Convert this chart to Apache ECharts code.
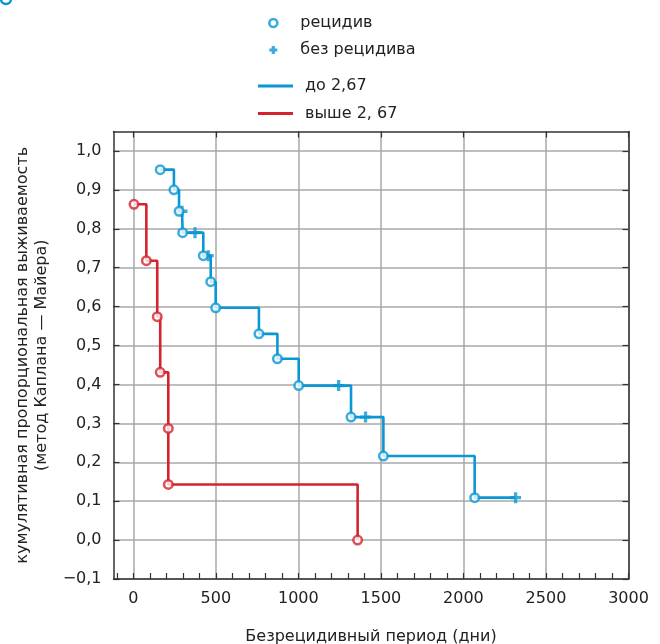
<!DOCTYPE html>
<html>
<head>
<meta charset="utf-8">
<title>Kaplan-Meier</title>
<script src="https://cdn.jsdelivr.net/npm/echarts@6/dist/echarts.min.js"></script>
<style>
  html, body { margin: 0; padding: 0; background: #fff; }
  #chart { width: 660px; height: 644px; }
</style>
</head>
<body>
<div id="chart"></div>
<script>
/* ---------- данные ---------- */
// до 2,67 : время (дни), выживаемость, 1 = без рецидива (цензурировано)
var blueTimes    = [163, 246, 277, 295, 299, 374, 424, 454, 469, 499, 761, 873, 1002, 1244, 1319, 1407, 1515, 2068, 2316];
var blueSurv     = [0.952, 0.900, 0.845, 0.845, 0.790, 0.790, 0.731, 0.731, 0.664, 0.597, 0.530, 0.466, 0.397, 0.397, 0.316, 0.316, 0.216, 0.109, 0.109];
var blueCensored = [0, 0, 0, 1, 0, 1, 0, 1, 0, 0, 0, 0, 0, 1, 0, 1, 0, 0, 1];

// выше 2, 67
var redTimes = [4, 79, 145, 163, 212, 212, 1359];
var redSurv  = [0.863, 0.718, 0.574, 0.431, 0.287, 0.143, 0];

// оси
var xTicks = [0, 500, 1000, 1500, 2000, 2500, 3000];
var xMinorStep = 100;
var yTicks = [-0.1, 0, 0.1, 0.2, 0.3, 0.4, 0.5, 0.6, 0.7, 0.8, 0.9, 1.0];

var BLUE = '#0a97d3';
var RED = '#d3242d';
var FRAME = '#333';
var GRID = '#a9a9a9';
var PLUS = 'path://M3.5,0H6.5V3.5H10V6.5H6.5V10H3.5V6.5H0V3.5H3.5Z';
var PLUS_BOLD = 'path://M3,0H7V3H10V7H7V10H3V7H0V3H3Z';
var LINE_ICON = 'path://M0,0H35V2.8H0Z';

var xMinorTicks = [];
for (var t = -100; t <= 3000; t += xMinorStep) xMinorTicks.push(t);

function pairs(xs, ys, keep) {
    var out = [];
    for (var i = 0; i < xs.length; i++) {
        if (!keep || keep(i)) out.push([xs[i], ys[i]]);
    }
    return out;
}

function yLabel(v) {
    var s = Math.abs(v).toFixed(1).replace('.', ',');
    return v < -1e-9 ? '\u2212' + s : s;
}

var chart = echarts.init(document.getElementById('chart'));

var option = {
    animation: false,
    textStyle: { fontFamily: 'DejaVu Sans' },
    grid: { left: 113.5, right: 31.5, top: 131.5, bottom: 65, outerBoundsMode: 'none', containLabel: false },
    graphic: [{
        type: 'circle',
        shape: { cx: 6, cy: -1, r: 5 },
        style: { fill: '#fff', stroke: BLUE, lineWidth: 2.5 }
    }],
    legend: [{
        orient: 'vertical',
        left: 263, top: 10,
        itemWidth: 20, itemHeight: 8, itemGap: 11,
        itemStyle: { borderWidth: 2.6 },
        textStyle: { fontSize: 16, color: '#222', padding: [0, 0, 0, 12] },
        data: [{ name: 'рецидив', icon: 'circle' }, { name: 'без рецидива', icon: PLUS_BOLD }]
    }, {
        orient: 'vertical',
        left: 253, top: 73,
        itemWidth: 35, itemHeight: 8, itemGap: 11.5,
        textStyle: { fontSize: 16, color: '#222', padding: [0, 0, 0, 7] },
        data: [{ name: 'до 2,67', icon: LINE_ICON }, { name: 'выше 2, 67', icon: LINE_ICON }]
    }],
    xAxis: [{
        type: 'value', position: 'bottom', min: -120, max: 3000,
        name: 'Безрецидивный период (дни)', nameLocation: 'middle', nameGap: 50,
        nameTextStyle: { fontSize: 16, color: '#222' },
        axisLine: { onZero: false, lineStyle: { color: FRAME, width: 1.5 } },
        axisTick: { inside: true, length: 6, customValues: xMinorTicks, lineStyle: { color: FRAME, width: 1.2 } },
        axisLabel: { customValues: xTicks, formatter: function (v) { return String(v); }, fontSize: 16, color: '#222', margin: 12 },
        splitLine: { show: false }
    }, {
        type: 'value', position: 'top', min: -120, max: 3000,
        axisLine: { onZero: false, lineStyle: { color: FRAME, width: 1.5 } },
        axisTick: { inside: true, length: 6, customValues: xTicks, lineStyle: { color: FRAME, width: 1.2 } },
        axisLabel: { show: false },
        splitLine: { show: true, lineStyle: { color: GRID, width: 1.5 } }
    }],
    yAxis: [{
        type: 'value', position: 'left', min: -0.1, max: 1.05,
        name: 'кумулятивная пропорциональная выживаемость\n(метод Каплана — Майера)',
        nameLocation: 'middle', nameGap: 56, nameRotate: 90,
        nameTextStyle: { fontSize: 16, color: '#222', lineHeight: 19 },
        axisLine: { onZero: false, lineStyle: { color: FRAME, width: 1.5 } },
        axisTick: { inside: true, length: 6, customValues: yTicks, lineStyle: { color: FRAME, width: 1.2 } },
        axisLabel: { customValues: yTicks, formatter: yLabel, fontSize: 16, color: '#222', margin: 12 },
        splitLine: { show: true, lineStyle: { color: GRID, width: 1.5 } }
    }, {
        type: 'value', position: 'right', min: -0.1, max: 1.05,
        axisLine: { onZero: false, lineStyle: { color: FRAME, width: 1.5 } },
        axisTick: { inside: true, length: 6, customValues: yTicks, lineStyle: { color: FRAME, width: 1.2 } },
        axisLabel: { show: false },
        splitLine: { show: false }
    }],
    series: [{
        name: 'до 2,67', type: 'line', step: 'end',
        data: pairs(blueTimes, blueSurv),
        symbol: 'none', color: BLUE,
        lineStyle: { color: BLUE, width: 2.6 }, z: 2
    }, {
        name: 'выше 2, 67', type: 'line', step: 'end',
        data: pairs(redTimes, redSurv),
        symbol: 'none', color: RED,
        lineStyle: { color: RED, width: 2.6 }, z: 2
    }, {
        name: 'рецидив', type: 'scatter',
        data: pairs(blueTimes, blueSurv, function (i) { return !blueCensored[i]; }),
        symbol: 'circle', symbolSize: 8.5,
        itemStyle: { color: '#fff', borderColor: BLUE, borderWidth: 2.5 }, z: 4
    }, {
        name: 'рецидив', type: 'scatter',
        data: pairs(redTimes, redSurv),
        symbol: 'circle', symbolSize: 8.5,
        itemStyle: { color: '#fff', borderColor: RED, borderWidth: 2.5 }, z: 4
    }, {
        name: 'без рецидива', type: 'scatter',
        data: pairs(blueTimes, blueSurv, function (i) { return blueCensored[i]; }),
        symbol: PLUS, symbolSize: 11,
        itemStyle: { color: BLUE }, z: 3
    }]
};

chart.setOption(option);
</script>
</body>
</html>
